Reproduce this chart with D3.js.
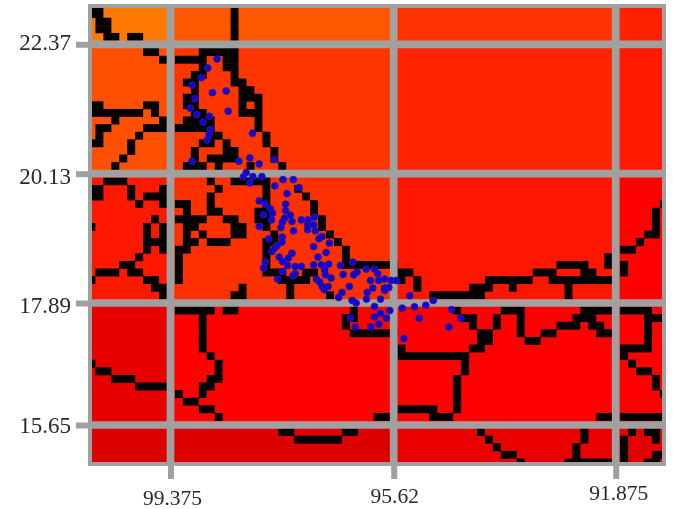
<!DOCTYPE html>
<html>
<head>
<meta charset="utf-8">
<title>Grid map</title>
<script src="https://cdnjs.cloudflare.com/ajax/libs/d3/7.8.5/d3.min.js"></script>
<style>
  html, body { margin: 0; padding: 0; background: #fff; overflow: hidden; }
  svg { display: block; filter: blur(0.5px); }
  .axis text { font-family: "Liberation Serif", serif; fill: #2a2a2a; }
  .x-axis text { font-size: 21.5px; }
  .y-axis text { font-size: 23px; }
</style>
</head>
<body>
<div id="chart"></div>
<script>
// tick positions and labels
const lonTicks = [99.375, 95.62, 91.875];
const lonLabels = ["99.375", "95.62", "91.875"];
const latTicks = [22.37, 20.13, 17.89, 15.65];
const latLabels = ["22.37", "20.13", "17.89", "15.65"];

// background value of each block between grid lines (rows north to south, columns west to east)
const blockValues = [
  [1.00, 0.72, 0.42, 0.28],
  [0.66, 0.44, 0.30, 0.22],
  [0.20, 0.40, 0.18, 0.02],
  [-0.18, 0.02, 0.00, 0.00],
  [-0.25, -0.24, -0.15, -0.20]
];

// boundary cells: [row, firstCol, lastCol, firstCol, lastCol, ...]
const boundaryRuns = [
  [0, 0,1, 18,18], [1, 0,1, 18,18], [2, 1,2, 18,18], [3, 1,2, 18,18],
  [4, 2,3, 5,6, 18,18],
  [6, 7,8, 14,18],
  [7, 9,9, 11,14, 17,18],
  [8, 14,14, 17,18],
  [9, 13,14, 18,18],
  [10, 12,13, 18,19],
  [11, 13,13, 19,20],
  [12, 12,13, 19,21],
  [13, 0,1, 7,8, 12,13, 19,19, 21,21],
  [14, 0,6, 8,8, 13,14, 19,21],
  [15, 3,3, 9,9, 12,15, 21,21],
  [16, 1,2, 7,9, 11,15, 21,21],
  [17, 1,1, 6,6, 15,16, 22,22],
  [18, 0,1, 5,5, 14,15, 17,17, 22,22],
  [19, 5,5, 13,13, 17,18, 23,23],
  [20, 4,4, 13,13, 15,18, 23,23],
  [21, 3,3, 12,13, 14,14, 16,16, 20,20, 24,24],
  [23, 2,4, 15,15, 18,22],
  [24, 0,1, 5,5, 9,9, 16,16, 22,22, 26,26],
  [25, 0,1, 5,5, 7,9, 15,15, 22,22, 27,27],
  [26, 6,6, 9,9, 11,12, 15,15, 22,22, 28,28, 72,72],
  [27, 12,12, 15,16, 21,22, 28,28, 71,71],
  [28, 8,8, 11,14, 17,18, 21,22, 29,29, 71,71],
  [29, 0,0, 7,7, 9,9, 12,13, 18,19, 22,22, 29,29, 71,71],
  [30, 7,7, 9,9, 12,12, 14,14, 18,19, 23,23, 30,30, 70,71],
  [31, 7,9, 12,13, 15,17, 22,23, 31,31, 69,69],
  [32, 7,7, 9,9, 11,12, 22,22, 32,32, 67,68],
  [33, 6,6, 11,11, 22,22, 32,32, 65,65],
  [34, 4,5, 11,11, 22,22, 32,38, 59,62, 65,65, 67,67],
  [35, 1,3, 5,6, 11,11, 22,24, 27,28, 39,40, 56,58, 62,63, 67,67],
  [36, 0,0, 7,8, 11,11, 24,27, 39,39, 41,41, 50,55, 58,65],
  [37, 8,9, 19,19, 25,25, 41,41, 48,50, 53,53, 60,60],
  [38, 9,9, 18,19, 25,25, 30,30, 43,49, 60,60],
  [40, 11,15, 17,18, 33,33, 46,46, 52,54, 62,65, 67,70],
  [41, 14,14, 32,33, 47,48, 51,51, 54,54, 61,63, 70,72],
  [42, 14,14, 32,32, 48,48, 51,51, 54,54, 59,61, 63,64, 70,70],
  [43, 14,14, 33,38, 49,50, 54,54, 57,58, 64,65, 70,70],
  [44, 14,14, 49,50, 55,56, 70,70],
  [45, 14,14, 39,39, 48,49, 67,70],
  [46, 15,15, 39,47, 67,67],
  [47, 0,0, 16,16, 47,47, 68,68],
  [48, 1,2, 16,16, 47,47, 69,70],
  [49, 3,5, 15,16, 46,46, 71,71],
  [50, 6,9, 14,15, 46,46, 71,71],
  [51, 11,11, 14,14, 46,46, 72,72],
  [52, 12,13, 46,46],
  [53, 14,15, 39,43, 46,46],
  [54, 16,16, 36,38, 43,45, 64,65, 67,72],
  [56, 24,25, 32,33, 49,49, 62,62, 68,68, 70,71],
  [57, 26,31, 50,50, 62,62, 67,67, 71,71],
  [58, 51,51, 61,61, 67,67],
  [59, 52,53, 61,61, 67,67, 71,72],
  [60, 54,54, 60,65, 67,67, 70,71]
];

// observation points
const pointLon = [98.591,98.748,98.856,99.012,98.670,98.439,98.962,99.041,98.405,98.933,98.721,98.827,98.704,98.726,97.996,98.754,97.625,99.012,98.225,98.039,97.883,98.102,98.147,97.989,97.837,98.039,97.483,97.309,97.618,97.213,97.415,97.883,97.781,97.439,97.697,97.439,97.810,97.658,97.360,97.456,97.675,97.174,97.061,96.955,97.495,97.331,97.883,97.068,96.967,97.517,97.068,96.938,97.304,96.825,96.876,97.726,97.495,97.500,97.584,96.702,96.967,97.668,97.625,96.758,97.331,97.545,97.389,96.893,97.490,97.781,97.405,96.967,96.837,96.714,96.309,97.276,97.174,97.810,96.781,96.517,96.235,97.490,97.276,97.314,96.770,96.471,96.292,96.674,97.574,96.921,96.866,96.365,96.825,96.724,96.488,96.787,96.083,95.943,95.888,96.011,95.871,95.775,95.662,95.572,95.972,95.775,95.702,95.775,96.066,95.348,96.545,96.078,95.842,96.319,96.252,94.953,95.078,95.943,95.476,95.269,95.685,95.842,95.943,95.741,96.348,95.190,94.645,94.488,95.871,94.690,96.264,96.006,95.449];
const pointLat = [22.116,21.960,21.792,21.666,21.533,21.562,21.429,21.263,21.211,21.152,21.124,21.021,20.893,20.806,20.830,20.714,20.374,20.346,20.346,20.403,20.299,20.149,20.074,20.079,20.079,19.970,20.028,20.028,19.919,19.889,19.785,19.659,19.602,19.602,19.521,19.491,19.417,19.446,19.412,19.360,19.330,19.330,19.330,19.377,19.291,19.301,19.214,19.244,19.244,19.197,19.157,19.140,19.140,19.041,19.002,19.002,19.031,18.945,18.881,18.927,18.868,18.782,18.841,18.765,18.754,18.685,18.668,18.685,18.609,18.599,18.540,18.552,18.552,18.564,18.599,18.522,18.522,18.495,18.465,18.540,18.426,18.436,18.396,18.362,18.379,18.384,18.379,18.322,18.304,18.304,18.253,18.176,18.176,18.176,18.073,18.119,18.477,18.477,18.396,18.280,18.280,18.304,18.280,18.280,18.149,18.149,18.159,18.107,18.073,18.016,17.986,17.958,17.958,17.934,17.889,17.934,17.848,17.825,17.796,17.820,17.751,17.699,17.635,17.612,17.612,17.612,17.768,17.612,17.502,17.450,17.450,17.450,17.237];

const width = 673, height = 509;
const plot = { left: 92, right: 662, top: 8, bottom: 462 };

const svg = d3.select("#chart").append("svg")
  .attr("width", width)
  .attr("height", height);

svg.append("defs").append("clipPath").attr("id", "plot-clip")
  .append("rect")
  .attr("x", plot.left).attr("y", plot.top)
  .attr("width", plot.right - plot.left).attr("height", plot.bottom - plot.top);

// Scales
const xLon = d3.scaleLinear().domain(lonTicks).range([170.5, 393.7, 615.7]);
const yLat = d3.scaleLinear().domain(latTicks).range([44.3, 173.7, 303, 425]);
const colX = d3.scaleLinear().domain([0, 1]).range([87.5, 95.45]);
const rowY = d3.scaleLinear().domain([0, 1]).range([2.7, 10.3]);
const heat = d3.scaleLinear()
  .domain([-0.4, 0, 1])
  .range(["#c80000", "#ff0000", "#ff7800"]);

// Frame
svg.append("rect")
  .attr("x", plot.left - 4).attr("y", plot.top - 4)
  .attr("width", plot.right - plot.left + 8).attr("height", plot.bottom - plot.top + 8)
  .attr("fill", "#a0a0a0");

// Background blocks
const xEdges = [plot.left, ...lonTicks.map(d => xLon(d)), plot.right];
const yEdges = [plot.top, ...latTicks.map(d => yLat(d)), plot.bottom];
const blocks = blockValues.flatMap((row, i) => row.map((v, j) => ({ i, j, v })));

const plotG = svg.append("g").attr("clip-path", "url(#plot-clip)");

plotG.selectAll("rect.block")
  .data(blocks)
  .enter()
  .append("rect")
  .attr("class", "block")
  .attr("x", d => xEdges[d.j])
  .attr("y", d => yEdges[d.i])
  .attr("width", d => xEdges[d.j + 1] - xEdges[d.j])
  .attr("height", d => yEdges[d.i + 1] - yEdges[d.i])
  .attr("fill", d => heat(d.v));

// Boundary cells, one rect per horizontal run
const runs = [];
boundaryRuns.forEach(run => {
  for (let k = 1; k < run.length; k += 2) {
    runs.push({ r: run[0], from: run[k], to: run[k + 1] });
  }
});

plotG.selectAll("rect.cell")
  .data(runs)
  .enter()
  .append("rect")
  .attr("class", "cell")
  .attr("x", d => colX(d.from))
  .attr("y", d => rowY(d.r) - 0.15)
  .attr("width", d => colX(d.to + 1) - colX(d.from))
  .attr("height", rowY(1) - rowY(0) + 0.3)
  .attr("fill", "#000");

// Grid lines
plotG.selectAll("line.vgrid")
  .data(lonTicks)
  .enter()
  .append("line")
  .attr("class", "vgrid")
  .attr("x1", d => xLon(d)).attr("x2", d => xLon(d))
  .attr("y1", plot.top).attr("y2", plot.bottom)
  .attr("stroke", "#a0a0a0").attr("stroke-width", 7.7);

plotG.selectAll("line.hgrid")
  .data(latTicks)
  .enter()
  .append("line")
  .attr("class", "hgrid")
  .attr("x1", plot.left).attr("x2", plot.right)
  .attr("y1", d => yLat(d)).attr("y2", d => yLat(d))
  .attr("stroke", "#a0a0a0").attr("stroke-width", 7.7);

// Axes
const xAxis = d3.axisBottom(xLon)
  .tickValues(lonTicks)
  .tickFormat((d, i) => lonLabels[i])
  .tickSize(13);

const yAxis = d3.axisLeft(yLat)
  .tickValues(latTicks)
  .tickFormat((d, i) => latLabels[i])
  .tickSize(12)
  .tickPadding(5);

const gx = svg.append("g").attr("class", "axis x-axis")
  .attr("transform", `translate(0,${plot.bottom + 4})`).call(xAxis);
const gy = svg.append("g").attr("class", "axis y-axis")
  .attr("transform", `translate(${plot.left - 4},0)`).call(yAxis);

[gx, gy].forEach(g => {
  g.select(".domain").remove();
  g.selectAll(".tick line").attr("stroke", "#a0a0a0").attr("stroke-width", 6);
  g.selectAll(".tick text").attr("fill", "#2a2a2a").attr("dy", 0);
});

// the source picture has its labels slightly off the tick line
const xLabelNudge = [[1.5, 39], [0.5, 37], [2.5, 34]];
const yLabelNudge = [5, 10, 9.5, 7.5];
gx.selectAll(".tick text")
  .attr("x", (d, i) => xLabelNudge[i][0])
  .attr("y", (d, i) => xLabelNudge[i][1]);
gy.selectAll(".tick text")
  .attr("y", (d, i) => yLabelNudge[i]);

// Points
const points = pointLon.map((lon, i) => ({ lon, lat: pointLat[i] }));

svg.selectAll("circle")
  .data(points)
  .enter()
  .append("circle")
  .attr("cx", d => xLon(d.lon))
  .attr("cy", d => yLat(d.lat))
  .attr("r", 3.4)
  .attr("fill", "#1800d8")
  .attr("stroke", "#20208a")
  .attr("stroke-width", 0.9);
</script>
</body>
</html>
